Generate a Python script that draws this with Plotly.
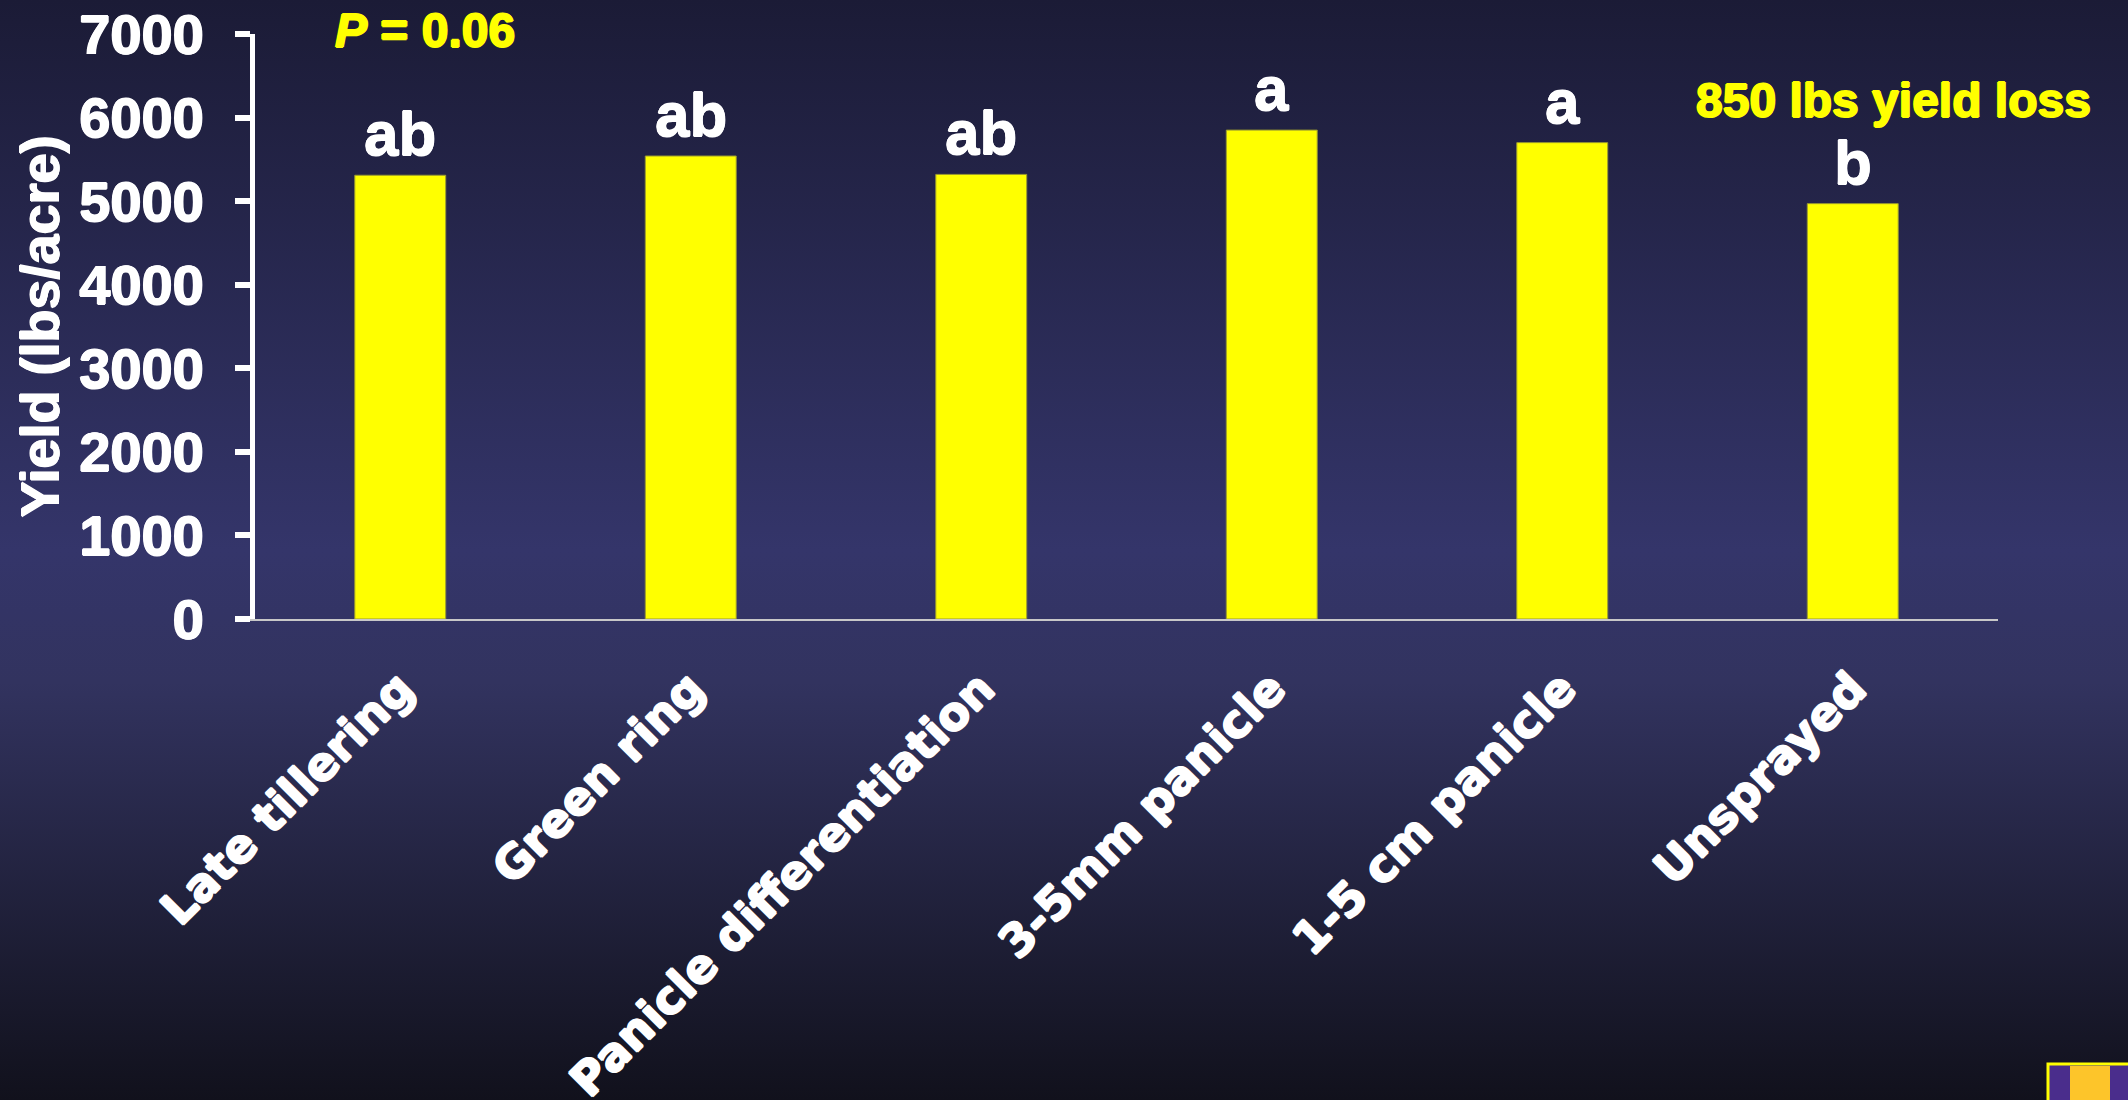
import base64
import plotly.graph_objects as go

categories = ["Late tillering", "Green ring", "Panicle differentiation",
              "3-5mm panicle", "1-5 cm panicle", "Unsprayed"]
yield_values = [5310, 5540, 5320, 5850, 5700, 4970]
letters = ["ab", "ab", "ab", "a", "a", "b"]
y_ticks = [0, 1000, 2000, 3000, 4000, 5000, 6000, 7000]

W, H = 2128, 1100
L, R, T, B = 255, 1998, 34, 619
PW, PH = R - L, B - T


def px(x):
    return (x - L) / PW


def py(y):
    return (B - y) / PH


def heavy(color, d=1):
    return ", ".join(f"{a}px {b}px 0 {color}" for a, b in
                     [(d, 0), (-d, 0), (0, d), (0, -d)])


svg = f'''<svg xmlns="http://www.w3.org/2000/svg" width="{W}" height="{H}" preserveAspectRatio="none">
<defs><linearGradient id="g" x1="0" y1="0" x2="0" y2="1">
<stop offset="0" stop-color="#1b1b36"/>
<stop offset="0.5" stop-color="#34356a"/>
<stop offset="0.62" stop-color="#32335f"/>
<stop offset="1" stop-color="#11111c"/>
</linearGradient></defs>
<rect width="{W}" height="{H}" fill="url(#g)"/></svg>'''
bg_src = "data:image/svg+xml;base64," + base64.b64encode(svg.encode()).decode()

fig = go.Figure()
fig.add_trace(go.Bar(
    x=categories, y=yield_values, width=0.313,
    marker=dict(color="#ffff00", line=dict(width=1, color="#9a9a30")),
    hoverinfo="skip",
))

annotations = []
for c, v, t in zip(categories, yield_values, letters):
    annotations.append(dict(
        x=c, y=v, xref="x", yref="y", text=t, showarrow=False,
        yanchor="bottom", yshift=5,
        font=dict(family="Liberation Sans", size=62, color="white", weight="bold",
                  shadow=heavy("white", 0.6)),
    ))

annotations.append(dict(
    x=px(39), y=0.5, xref="paper", yref="paper", text="Yield (lbs/acre)",
    textangle=-90, showarrow=False, xanchor="center", yanchor="middle",
    font=dict(family="Liberation Sans", size=54, color="white", weight="bold",
              shadow=heavy("white", 0.8)),
))
annotations.append(dict(
    x=px(333), y=py(30), xref="paper", yref="paper", text="<i>P</i> = 0.06",
    showarrow=False, xanchor="left", yanchor="middle",
    font=dict(family="Liberation Sans", size=48, color="#ffff00", weight="bold",
              shadow=heavy("#ffff00", 1)),
))
annotations.append(dict(
    x=px(1694), y=py(100), xref="paper", yref="paper", text="850 lbs yield loss",
    showarrow=False, xanchor="left", yanchor="middle",
    font=dict(family="Liberation Sans", size=48, color="#ffff00", weight="bold",
              shadow=heavy("#ffff00", 1)),
))

shapes = [
    dict(type="rect", xref="paper", yref="paper", x0=px(2048), x1=px(2132),
         y0=py(1064), y1=py(1104), fillcolor="#4a2d8c",
         line=dict(color="#ffff00", width=3)),
    dict(type="rect", xref="paper", yref="paper", x0=px(2070), x1=px(2110),
         y0=py(1066), y1=py(1104), fillcolor="#fdc52a", line=dict(width=0)),
]

fig.update_layout(
    width=W, height=H, autosize=False,
    margin=dict(l=L, r=W - R, t=T, b=H - B, pad=0, autoexpand=False),
    paper_bgcolor="#2a2a55", plot_bgcolor="rgba(0,0,0,0)",
    showlegend=False,
    images=[dict(source=bg_src, xref="paper", yref="paper",
                 x=px(0), y=py(0), sizex=W / PW, sizey=H / PH,
                 xanchor="left", yanchor="top", sizing="stretch",
                 layer="below")],
    annotations=annotations,
    shapes=shapes,
    xaxis=dict(
        range=[-0.5, 5.5], showgrid=False, zeroline=False, automargin=False,
        showline=True, linecolor="#c8c8c8", linewidth=2,
        ticks="", tickangle=-45, ticklabelstandoff=22,
        tickfont=dict(family="DejaVu Sans", size=46, color="white", weight="bold",
                      shadow=heavy("white", 1)),
    ),
    yaxis=dict(
        range=[0, 7000], tickvals=y_ticks, ticktext=[str(v) for v in y_ticks],
        showgrid=False, zeroline=False, automargin=False,
        showline=True, linecolor="white", linewidth=5,
        ticks="outside", ticklen=15, tickwidth=6, tickcolor="white",
        ticklabelstandoff=20,
        tickfont=dict(family="Liberation Sans", size=56, color="white", weight="bold",
                      shadow=heavy("white", 0.8)),
    ),
)

fig.write_html("out.html")
